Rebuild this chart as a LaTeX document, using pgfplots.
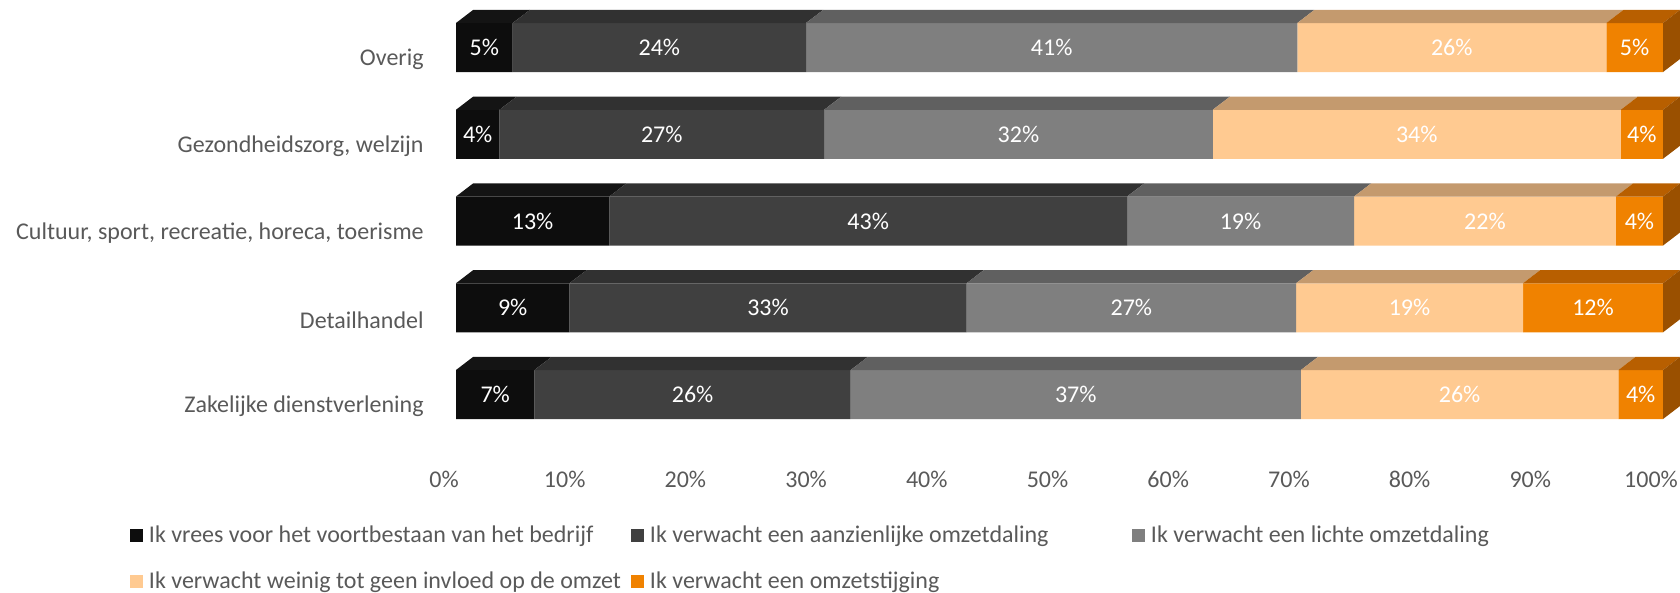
\documentclass[border=0pt]{standalone}
\usepackage{fontspec}
\setmainfont{Carlito}
\usepackage{pgfplots}
\usepackage{pgfplotstable}
\pgfplotsset{compat=1.18}
\definecolor{c1}{HTML}{0D0D0D}
\definecolor{c2}{HTML}{404040}
\definecolor{c3}{HTML}{7F7F7F}
\definecolor{c4}{HTML}{FFCA91}
\definecolor{c5}{HTML}{F08200}
\definecolor{t1}{HTML}{141414}
\definecolor{t2}{HTML}{313131}
\definecolor{t3}{HTML}{606060}
\definecolor{t4}{HTML}{C49A6E}
\definecolor{t5}{HTML}{B85F00}
\definecolor{r5}{HTML}{9A5000}
\definecolor{tickgray}{HTML}{595959}
\newcommand{\lblfont}{\fontsize{12}{14}\selectfont}

\pgfplotstableread{
y a b c d e la lb lc ld le
0 6.5 26.2 37.3 26.3 3.7 7 26 37 26 4
1 9.4 32.9 27.3 18.8 11.6 9 33 27 19 12
2 12.7 42.9 18.8 21.7 3.9 13 43 19 22 4
3 3.6 26.9 32.2 33.8 3.5 4 27 32 34 4
4 4.7 24.3 40.7 25.6 4.7 5 24 41 26 5
}\data

\pgfplotsset{
  base/.style={scale only axis, width=603.5pt, height=216.875pt,
    xmin=0, xmax=100, ymin=-0.5, ymax=4.5,
    at={(228pt,-218.94pt)}, anchor=south west},
  sqlegend/.style={legend image code/.code={\fill[##1] (0pt,-3.25pt) rectangle (6.5pt,3.25pt); \path (9.5pt,0pt);}},
}

\begin{document}
\begin{tikzpicture}
\useasboundingbox (0,0) rectangle (840pt,-296.5pt);
\begin{axis}[base, xbar stacked, bar width=0.565,
  sqlegend,
  axis line style={draw=none}, tick style={draw=none},
  xtick={0,10,...,100},
  xticklabels={0\%,10\%,20\%,30\%,40\%,50\%,60\%,70\%,80\%,90\%,100\%},
  ytick={0,1,2,3,4},
  yticklabels={Zakelijke dienstverlening, Detailhandel, {Cultuur, sport, recreatie, horeca, toerisme}, {Gezondheidszorg, welzijn}, Overig},
  xticklabel style={anchor=center, inner sep=0pt, yshift=-21pt, xshift=-6pt, text=tickgray, font=\lblfont},
  yticklabel style={anchor=east, inner sep=0pt, xshift=-16pt, yshift=-6pt, text=tickgray, font=\lblfont},
  legend columns=3,
  legend cell align=left,
  legend style={draw=none, fill=none, inner sep=0pt, outer sep=0pt,
    at={(-0.27009,-0.2250)}, anchor=west, column sep=0pt, row sep=0pt,
    nodes={inner sep=0pt, text=tickgray, font=\lblfont}},
]
\addplot[fill=c1, draw=none] table[x=a, y=y] {\data};
\addplot[fill=c2, draw=none] table[x=b, y=y] {\data};
\addplot[fill=c3, draw=none] table[x=c, y=y] {\data};
\addplot[fill=c4, draw=none] table[x=d, y=y] {\data};
\addplot[fill=c5, draw=none] table[x=e, y=y] {\data};
\legend{\makebox[241pt][l]{Ik vrees voor het voortbestaan van het bedrijf},
  \makebox[241pt][l]{Ik verwacht een aanzienlijke omzetdaling},
  Ik verwacht een lichte omzetdaling}
\end{axis}

\begin{axis}[base, hide axis, clip=false, sqlegend,
  legend columns=2,
  legend cell align=left,
  legend style={draw=none, fill=none, inner sep=0pt, outer sep=0pt,
    at={(-0.27009,-0.3310)}, anchor=west, column sep=0pt, row sep=0pt,
    nodes={inner sep=0pt, text=tickgray, font=\lblfont}},
]
\pgfplotsforeachungrouped \k in {0,...,24}{%
  \pgfmathtruncatemacro{\ri}{floor(\k/5)}%
  \pgfmathtruncatemacro{\cj}{mod(\k,5)+1}%
  \pgfmathtruncatemacro{\lj}{\cj+5}%
  \ifnum\cj=1 \def\cum{0}\fi
  \pgfplotstablegetelem{\ri}{[index]\cj}\of\data
  \let\val\pgfplotsretval
  \pgfplotstablegetelem{\ri}{[index]\lj}\of\data
  \let\lab\pgfplotsretval
  \pgfmathsetmacro{\s}{\cum}%
  \pgfmathsetmacro{\e}{\cum+\val}%
  \pgfmathsetmacro{\sb}{\s+1.41}%
  \pgfmathsetmacro{\eb}{\e+1.41}%
  \pgfmathsetmacro{\m}{(\s+\e)/2}%
  \pgfmathsetmacro{\yt}{\ri+0.2825}%
  \pgfmathsetmacro{\yb}{\ri+0.4325}%
  \pgfmathsetmacro{\yl}{\ri-0.2825}%
  \pgfmathsetmacro{\ylb}{\ri-0.1325}%
  \edef\tmp{\noexpand\addplot[forget plot, draw=none, fill=t\cj] coordinates {(\s,\yt) (\e,\yt) (\eb,\yb) (\sb,\yb)};}\tmp
  \edef\tmp{\noexpand\addplot[forget plot, draw=none, mark=none, point meta=explicit symbolic, nodes near coords={\noexpand\pgfplotspointmeta\noexpand\%}, nodes near coords style={anchor=center, text=white, inner sep=0pt, font=\noexpand\lblfont}] coordinates {(\m,\ri) [\lab]};}\tmp
  \ifnum\cj=5
    \edef\tmp{\noexpand\addplot[forget plot, draw=none, fill=r5] coordinates {(\e,\yl) (\e,\yt) (\eb,\yb) (\eb,\ylb)};}\tmp
  \fi
  \let\cum\e
}
\addlegendimage{fill=c4, draw=none}
\addlegendimage{fill=c5, draw=none}
\legend{\makebox[241pt][l]{Ik verwacht weinig tot geen invloed op de omzet},
  Ik verwacht een omzetstijging}
\end{axis}
\end{tikzpicture}
\end{document}
